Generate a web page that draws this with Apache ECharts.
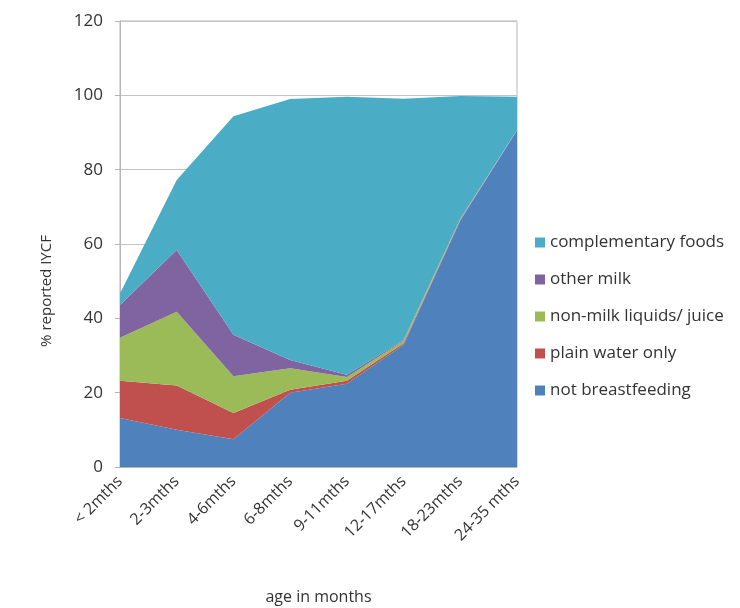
<!DOCTYPE html>
<html lang="en">

<head>
  <meta charset="UTF-8">
  <title>IYCF by age</title>
  <script src="https://cdn.jsdelivr.net/npm/echarts@6/dist/echarts.min.js"></script>
  <style>
    * {
      padding: 0;
      margin: 0;
    }

    #box {
      width: 740px;
      height: 608px;
    }
  </style>
</head>

<body>
  <div id="box"></div>
  <script>
    var ageGroups = ['< 2mths', '2-3mths', '4-6mths', '6-8mths', '9-11mths', '12-17mths', '18-23mths', '24-35 mths']
    var yTicks = [0, 20, 40, 60, 80, 100, 120]

    // each series is the band thickness (stacked)
    var notBreastfeeding = [13.2, 10.0, 7.5, 20.0, 22.4, 32.9, 66.3, 90.6]
    var plainWater = [10.0, 11.9, 7.0, 0.8, 0.8, 0.4, 0.2, 0.1]
    var nonMilkLiquids = [11.6, 19.9, 9.9, 5.8, 1.0, 0.7, 0.2, 0.0]
    var otherMilk = [8.8, 16.6, 11.2, 2.2, 0.6, 0.2, 0.1, 0.0]
    var complementaryFoods = [3.1, 18.8, 58.8, 70.2, 74.8, 64.9, 33.0, 8.9]

    var font = '"Open Sans", sans-serif'
    var txt = '#333'

    function band(name, data, color) {
      return {
        name: name,
        type: 'line',
        stack: 'all',
        data: data,
        symbol: 'none',
        lineStyle: { width: 0 },
        areaStyle: { color: color, opacity: 1 },
        itemStyle: { color: color }
      }
    }

    var mCharts = echarts.init(document.getElementById('box'))
    var option = {
      animation: false,
      grid: {
        left: 120,
        right: 223,
        top: 21,
        bottom: 141,
        outerBoundsMode: 'none',
        containLabel: false,
        show: true,
        borderColor: '#b5b5b5',
        borderWidth: 1
      },
      legend: {
        orient: 'vertical',
        left: 530,
        top: 229,
        itemWidth: 10,
        itemHeight: 10,
        itemGap: 20,
        icon: 'rect',
        textStyle: { fontFamily: font, fontSize: 17, color: txt },
        data: ['complementary foods', 'other milk', 'non-milk liquids/ juice', 'plain water only', 'not breastfeeding']
      },
      xAxis: {
        type: 'category',
        data: ageGroups,
        boundaryGap: false,
        name: 'age in months',
        nameLocation: 'middle',
        nameGap: 122,
        nameTextStyle: { fontFamily: font, fontSize: 16, color: txt },
        axisLine: { lineStyle: { color: '#b5b5b5' } },
        axisTick: { show: false },
        axisLabel: { rotate: 45, fontFamily: font, fontSize: 16, color: txt, margin: 12 },
        splitLine: { show: false }
      },
      yAxis: {
        type: 'value',
        min: yTicks[0],
        max: yTicks[yTicks.length - 1],
        interval: 20,
        axisLine: { show: true, lineStyle: { color: '#b5b5b5' } },
        axisTick: { show: true, length: 5, lineStyle: { color: '#b5b5b5' } },
        axisLabel: { fontFamily: font, fontSize: 17, color: txt, margin: 17 },
        splitLine: { lineStyle: { color: '#c4c4c4' } }
      },
      graphic: [{
        type: 'text',
        x: 47,
        y: 291,
        rotation: Math.PI / 2,
        style: {
          text: '% reported IYCF',
          font: '15px ' + font,
          fill: txt,
          align: 'center',
          verticalAlign: 'middle'
        }
      }],
      series: [
        band('not breastfeeding', notBreastfeeding, '#4f81bd'),
        band('plain water only', plainWater, '#c0504d'),
        band('non-milk liquids/ juice', nonMilkLiquids, '#9bbb59'),
        band('other milk', otherMilk, '#8064a2'),
        band('complementary foods', complementaryFoods, '#4bacc6')
      ]
    }
    mCharts.setOption(option)
  </script>
</body>

</html>
